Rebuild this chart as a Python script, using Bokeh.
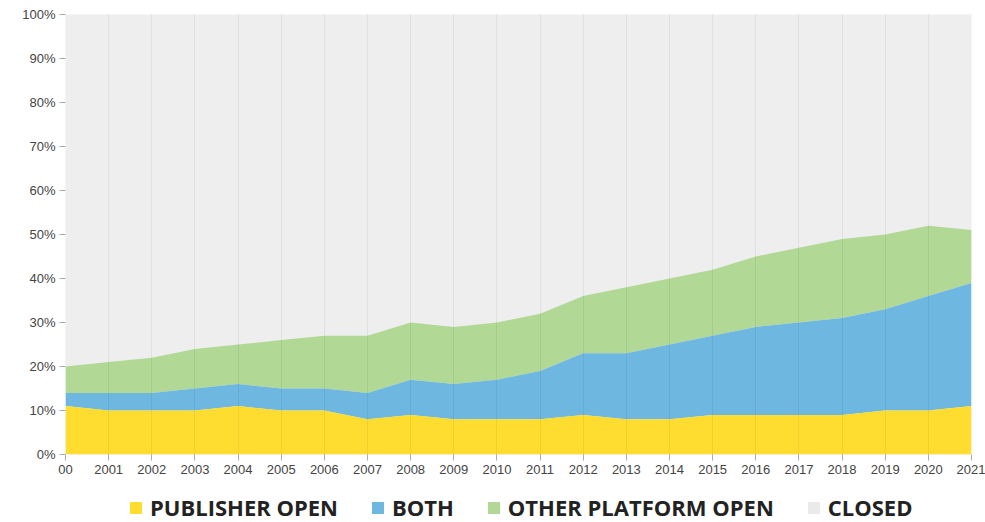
from bokeh.plotting import figure
from bokeh.layouts import column
from bokeh.models import ColumnDataSource, FixedTicker, Legend, LegendItem, Range1d
from bokeh.embed import file_html
from bokeh.resources import INLINE

years = list(range(2000, 2022))
publisher_open = [11, 10, 10, 10, 11, 10, 10, 8, 9, 8, 8, 8, 9, 8, 8, 9, 9, 9, 9, 10, 10, 11]
both = [3, 4, 4, 5, 5, 5, 5, 6, 8, 8, 9, 11, 14, 15, 17, 18, 20, 21, 22, 23, 26, 28]
other_platform_open = [6, 7, 8, 9, 9, 11, 12, 13, 13, 13, 13, 13, 13, 15, 15, 15, 16, 17, 18, 17, 16, 12]
closed = [100 - (a + b + c) for a, b, c in zip(publisher_open, both, other_platform_open)]
series_names = ["PUBLISHER OPEN", "BOTH", "OTHER PLATFORM OPEN", "CLOSED"]
series_colors = ["#fedd30", "#6eb7e1", "#b1d995", "#eaeaea"]
y_ticks = [0, 10, 20, 30, 40, 50, 60, 70, 80, 90, 100]
tick_labels = {t: f"{t}%" for t in y_ticks}
x_labels = {y: str(y) for y in years}
x_labels[2000] = "00"

c1 = [a for a in publisher_open]
c2 = [a + b for a, b in zip(c1, both)]
c3 = [a + b for a, b in zip(c2, other_platform_open)]
c4 = [a + b for a, b in zip(c3, closed)]
src = ColumnDataSource(dict(x=years, z=[0] * len(years), c1=c1, c2=c2, c3=c3, c4=c4))

p = figure(width=985, height=484, output_backend="svg", toolbar_location=None,
           x_range=Range1d(2000, 2021), y_range=Range1d(0, 100),
           min_border_left=65, min_border_right=14, min_border_top=14, min_border_bottom=30)
p.background_fill_color = "#eeeeee"
p.border_fill_color = "white"
p.outline_line_color = None

p.varea(x="x", y1="c3", y2="c4", source=src, fill_color="#eeeeee")
p.varea(x="x", y1="c2", y2="c3", source=src, fill_color=series_colors[2])
p.varea(x="x", y1="c1", y2="c2", source=src, fill_color=series_colors[1])
p.varea(x="x", y1="z", y2="c1", source=src, fill_color=series_colors[0])

p.xgrid.ticker = FixedTicker(ticks=years)
p.xgrid.grid_line_color = "#000000"
p.xgrid.grid_line_alpha = 0.06
p.xgrid.level = "overlay"
p.ygrid.grid_line_color = None

p.xaxis.ticker = FixedTicker(ticks=years)
p.xaxis.major_label_overrides = x_labels
p.yaxis.ticker = FixedTicker(ticks=y_ticks)
p.yaxis.major_label_overrides = tick_labels
for ax in (p.xaxis[0], p.yaxis[0]):
    ax.axis_line_color = None
    ax.major_tick_line_color = "#aaaaaa"
    ax.major_tick_in = 0
    ax.major_tick_out = 6
    ax.minor_tick_line_color = None
    ax.major_label_text_font = "Liberation Sans"
    ax.major_label_text_font_size = "13px"
    ax.major_label_text_color = "#444444"
    ax.major_label_standoff = 4

# legend strip (separate small figure; hidden one-row renderers carry only the colours)
lg = figure(width=985, height=38, output_backend="svg", toolbar_location=None,
            x_range=Range1d(0, 1), y_range=Range1d(0, 1),
            x_axis_location=None, y_axis_location=None,
            min_border_left=0, min_border_right=0, min_border_top=0, min_border_bottom=0)
lg.outline_line_color = None
lg.background_fill_color = "white"
lg.grid.grid_line_color = None
swatch = ColumnDataSource(dict(l=[0], r=[0], b=[0], t=[0]))
items = []
for name, col in zip(series_names, series_colors):
    r = lg.quad(left="l", right="r", bottom="b", top="t", source=swatch,
                fill_color=col, line_color=None, visible=False)
    items.append(LegendItem(label=name, renderers=[r]))

legend = Legend(items=items, orientation="horizontal", location=(63, 0))
legend.click_policy = "none"
legend.inactive_fill_alpha = 0
legend.label_text_font = "Open Sans"
legend.label_text_font_style = "bold"
legend.label_text_font_size = "22px"
legend.label_text_color = "#222222"
legend.glyph_width = 15
legend.glyph_height = 15
legend.spacing = 32
legend.label_standoff = 7
legend.padding = 0
legend.margin = 0
legend.border_line_color = None
legend.background_fill_alpha = 0
lg.add_layout(legend, "center")

layout = column(p, lg, spacing=0)
open("out.html", "w").write(file_html(layout, INLINE))
